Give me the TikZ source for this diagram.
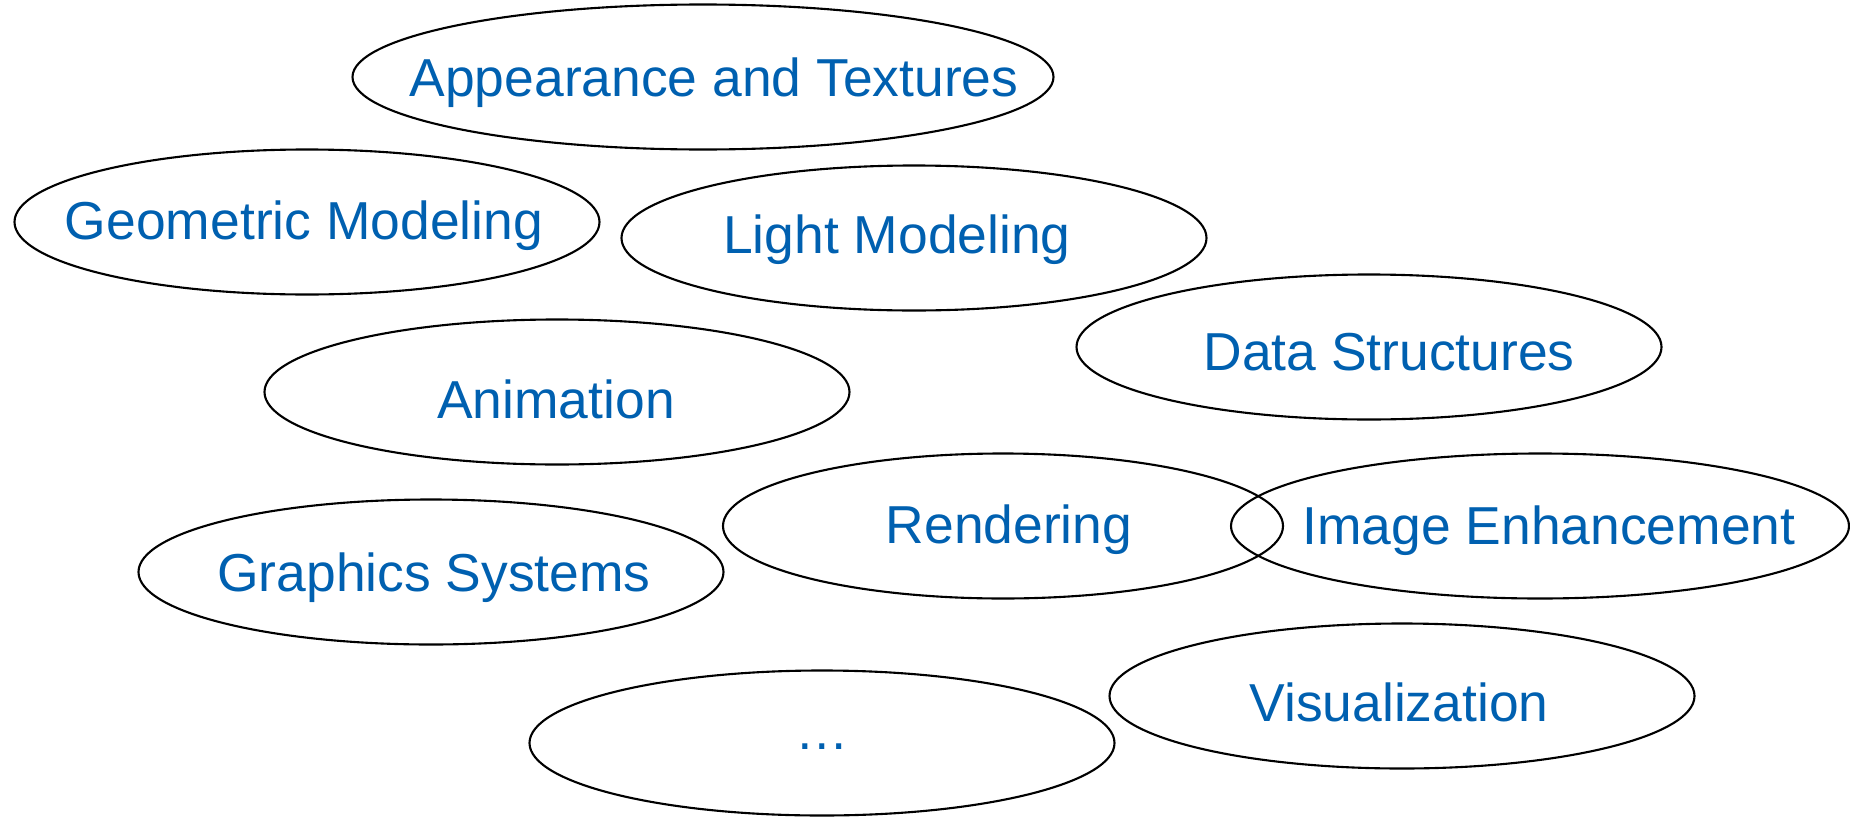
\documentclass[tikz,border=0pt]{standalone}
\usepackage{fontspec}
\setmainfont{Liberation Sans}
\usetikzlibrary{shapes.geometric}
\definecolor{topicblue}{RGB}{0,96,176}
\begin{document}
\begin{tikzpicture}[
  oval/.style={draw, ellipse, line width=0.6pt, inner sep=0pt, minimum height=1.45cm, minimum width=5.85cm},
  topic/.style={text=topicblue, font=\fontsize{15.2}{18}\selectfont, inner sep=0pt, yshift=-0.04cm}]
\useasboundingbox (0,0) rectangle (18.5,-8.17);
\node[oval, minimum width=7.01cm] (app) at (7.03,-0.77) {};
\node[oval] (geo) at (3.07,-2.22) {};
\node[oval] (light) at (9.14,-2.38) {};
\node[oval] (data) at (13.69,-3.47) {};
\node[oval] (anim) at (5.57,-3.92) {};
\node[oval, minimum width=5.60cm] (rend) at (10.03,-5.26) {};
\node[oval, minimum width=6.18cm] (img) at (15.40,-5.26) {};
\node[oval] (gfx) at (4.31,-5.72) {};
\node[oval] (vis) at (14.02,-6.96) {};
\node[oval] (more) at (8.22,-7.43) {};
\node[topic] (apptxt) at (7.14,-0.79) {Appearance and Textures};
\node[topic] (geotxt) at (3.04,-2.22) {Geometric Modeling};
\node[topic] (lighttxt) at (8.97,-2.36) {Light Modeling};
\node[topic] (datatxt) at (13.89,-3.48) {Data Structures};
\node[topic] (animtxt) at (5.56,-3.95) {Animation};
\node[topic] (rendtxt) at (10.09,-5.26) {Rendering};
\node[topic] (imgtxt) at (15.49,-5.27) {Image Enhancement};
\node[topic] (gfxtxt) at (4.34,-5.74) {Graphics Systems};
\node[topic] (vistxt) at (13.99,-6.98) {Visualization};
\node[topic] (moretxt) at (8.22,-7.43) {\dots};
\end{tikzpicture}
\end{document}
